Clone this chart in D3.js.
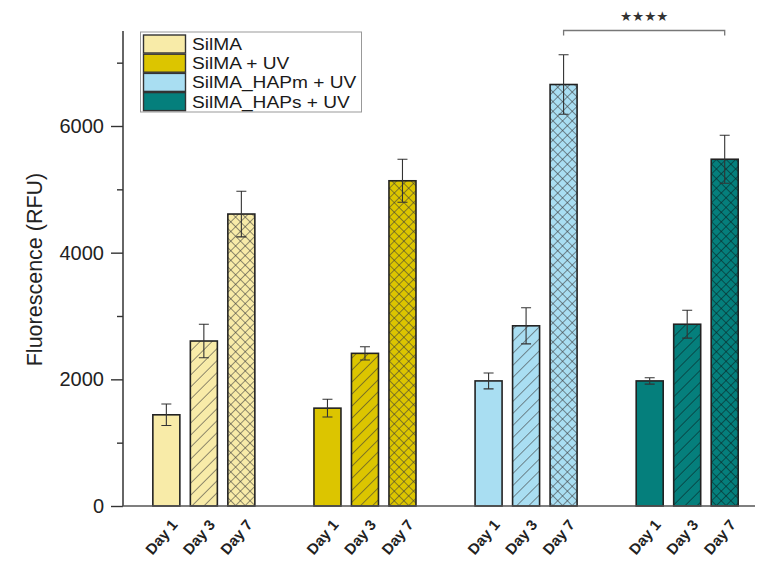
<!DOCTYPE html>
<html>
<head>
<meta charset="utf-8">
<script src="https://cdn.jsdelivr.net/npm/d3@7/dist/d3.min.js"></script>
<style>
  html, body { margin: 0; padding: 0; background: #fff; }
  svg { display: block; }
  text { font-family: "Liberation Sans", Arial, sans-serif; }
</style>
</head>
<body>
<svg id="chart" width="757" height="569"></svg>
<script>
// ---- data ----
const groups = ["SilMA", "SilMA + UV", "SilMA_HAPm + UV", "SilMA_HAPs + UV"];
const days = ["Day 1", "Day 3", "Day 7"];
const silma      = [1440, 2605, 4610];
const silmaUV    = [1545, 2410, 5135];
const silmaHAPm  = [1975, 2845, 6655];
const silmaHAPs  = [1975, 2870, 5475];
const silmaErr     = [170, 265, 360];
const silmaUVErr   = [140, 105, 340];
const silmaHAPmErr = [125, 285, 470];
const silmaHAPsErr = [50, 220, 380];
const colors = ["#f8eba8", "#dcc500", "#a9def2", "#057f7c"];
const majorTicks = [0, 2000, 4000, 6000];
const minorTicks = [1000, 3000, 5000, 7000];
const yLabel = "Fluorescence (RFU)";
const sigLabel = "★★★★";

const values = [silma, silmaUV, silmaHAPm, silmaHAPs];
const errors = [silmaErr, silmaUVErr, silmaHAPmErr, silmaHAPsErr];
const rows = [];
groups.forEach((g, gi) => days.forEach((d, di) => rows.push({g, gi, d, di, v: values[gi][di], e: errors[gi][di]})));

// ---- layout ----
const svg = d3.select("#chart");
const axisX = 123, baseY = 506, topY = 31;

const y = d3.scaleLinear().domain([0, 7500]).range([baseY, topY]);
const x0 = d3.scaleBand().domain(groups).range([147.6, 743.45]).paddingInner(0.3017).paddingOuter(0);
const x1 = d3.scaleBand().domain(days).range([0, x0.bandwidth()]).paddingInner(0.28).paddingOuter(0.14);
const cx = r => x0(r.g) + x1(r.d) + x1.bandwidth() / 2;

// ---- patterns ----
const defs = svg.append("defs");
groups.forEach((g, gi) => {
  const hatchColor = gi === 3 ? "#0a2020" : "#3a3a3a";
  const p3 = defs.append("pattern").attr("id", "hatch" + gi)
    .attr("patternUnits", "userSpaceOnUse").attr("width", 8.5).attr("height", 8.5)
    .attr("patternTransform", "rotate(45)");
  p3.append("rect").attr("width", 8.5).attr("height", 8.5).attr("fill", colors[gi]);
  p3.append("line").attr("x1", 0).attr("y1", 0).attr("x2", 0).attr("y2", 8.5)
    .attr("stroke", hatchColor).attr("stroke-width", 1.1);
  const p7 = defs.append("pattern").attr("id", "cross" + gi)
    .attr("patternUnits", "userSpaceOnUse").attr("width", 6.8).attr("height", 6.8)
    .attr("patternTransform", "rotate(45)");
  p7.append("rect").attr("width", 6.8).attr("height", 6.8).attr("fill", colors[gi]);
  p7.append("line").attr("x1", 0).attr("y1", 0).attr("x2", 0).attr("y2", 6.8)
    .attr("stroke", hatchColor).attr("stroke-width", 1.1);
  p7.append("line").attr("x1", 0).attr("y1", 0).attr("x2", 6.8).attr("y2", 0)
    .attr("stroke", hatchColor).attr("stroke-width", 1.1);
});
const fillFor = r => r.di === 0 ? colors[r.gi] : (r.di === 1 ? `url(#hatch${r.gi})` : `url(#cross${r.gi})`);

// ---- bars ----
svg.append("g").selectAll("rect").data(rows).join("rect")
  .attr("x", r => x0(r.g) + x1(r.d))
  .attr("y", r => y(r.v))
  .attr("width", x1.bandwidth())
  .attr("height", r => y(0) - y(r.v))
  .attr("fill", fillFor)
  .attr("stroke", "#222")
  .attr("stroke-width", 1.6);

// ---- error bars ----
const eb = svg.append("g").attr("stroke", "#333").attr("stroke-width", 1.1).attr("fill", "none");
const capW = 5;
eb.selectAll("path").data(rows).join("path")
  .attr("d", r => {
    const c = cx(r), t = y(r.v + r.e), b = y(r.v - r.e);
    return `M${c},${t}V${b}M${c - capW},${t}H${c + capW}M${c - capW},${b}H${c + capW}`;
  });

// ---- axes ----
const yAxis = d3.axisLeft(y).tickValues(majorTicks).tickSize(12).tickPadding(7).tickFormat(d3.format("d"));
const gy = svg.append("g").attr("transform", `translate(${axisX},0)`).call(yAxis);
gy.select(".domain").remove();
gy.selectAll(".tick line").attr("stroke", "#333").attr("stroke-width", 1.4);
gy.selectAll(".tick text").attr("font-size", 20).attr("fill", "#222")
  .style("font-family", '"Liberation Sans", Arial, sans-serif');
const gyMinor = svg.append("g").attr("transform", `translate(${axisX},0)`)
  .call(d3.axisLeft(y).tickValues(minorTicks).tickSize(6).tickFormat(""));
gyMinor.select(".domain").remove();
gyMinor.selectAll(".tick line").attr("stroke", "#333").attr("stroke-width", 1.4);

svg.append("line").attr("x1", axisX).attr("x2", axisX).attr("y1", topY).attr("y2", baseY)
  .attr("stroke", "#333").attr("stroke-width", 1.5);
svg.append("line").attr("x1", axisX - 0.7).attr("x2", 755).attr("y1", baseY).attr("y2", baseY)
  .attr("stroke", "#555").attr("stroke-width", 1.6);

// x labels
svg.append("g").selectAll("text").data(rows).join("text")
  .attr("transform", r => `translate(${cx(r) + 12},${baseY + 19}) rotate(-50)`)
  .attr("text-anchor", "end")
  .attr("font-size", 15).attr("font-weight", "bold").attr("fill", "#222")
  .text(r => r.d);

// y label
svg.append("text").attr("transform", `translate(42,${(y(0) + y(7500)) / 2 + 1}) rotate(-90)`)
  .attr("text-anchor", "middle").attr("font-size", 21.5).attr("fill", "#222")
  .text(yLabel);

// ---- legend ----
const lg = svg.append("g");
lg.append("rect").attr("x", 140.5).attr("y", 32).attr("width", 221).attr("height", 80)
  .attr("fill", "#fff").attr("stroke", "#999").attr("stroke-width", 1);
groups.forEach((g, gi) => {
  const ry = 35 + gi * 19.2;
  lg.append("rect").attr("x", 143.5).attr("y", ry).attr("width", 42).attr("height", 18)
    .attr("fill", colors[gi]).attr("stroke", "#333").attr("stroke-width", 1.4);
  lg.append("text").attr("transform", `translate(192,${ry + 15}) scale(1.16,1)`)
    .attr("font-size", 16.5).attr("fill", "#1a1a1a")
    .text(g);
});

// ---- significance bracket ----
const rA = rows.find(r => r.gi === 2 && r.di === 2);
const rB = rows.find(r => r.gi === 3 && r.di === 2);
const bY = 30.5;
svg.append("path")
  .attr("d", `M${cx(rA)},${bY + 5}V${bY}H${cx(rB)}V${bY + 5}`)
  .attr("fill", "none").attr("stroke", "#777").attr("stroke-width", 1.3);
svg.append("text").attr("x", (cx(rA) + cx(rB)) / 2).attr("y", 20.5)
  .attr("text-anchor", "middle").attr("font-size", 13.5).attr("fill", "#333")
  .style("font-family", '"DejaVu Sans", sans-serif')
  .text(sigLabel);
</script>
</body>
</html>
